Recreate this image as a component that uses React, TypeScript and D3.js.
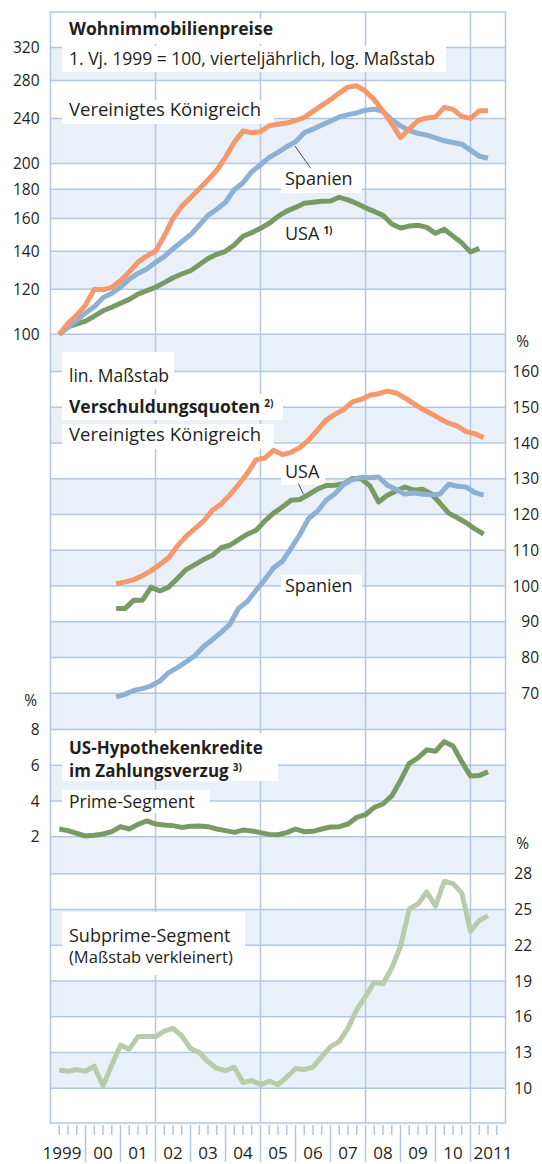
import * as d3 from "d3";

// Quartalswerte, Index 0 = 1. Vj. 1999
const houseUK = [100, 104.6, 108.1, 112.6, 120, 119.8, 121, 124.3, 128.8, 134, 137.4, 140, 149, 160, 168, 174, 180.5, 187, 194.5, 205, 218, 228, 226.5, 227.5, 233, 234.5, 235.5, 238, 241, 247, 253, 259, 266, 272.5, 274, 268, 259, 247, 235, 222, 230, 238, 240.5, 241.5, 251, 249, 242, 240, 247.5, 247.5];
const houseES = [100, 102.9, 105.8, 109, 111.8, 116, 118.1, 121, 125.1, 128, 130.3, 133.9, 137, 141.5, 145.5, 149.7, 155.6, 162, 166.1, 170.8, 179.7, 184.9, 193.4, 198.9, 205, 209.2, 214, 218.4, 226.4, 229.8, 233.6, 237.5, 241.4, 243.7, 245.4, 248.2, 249.2, 246.9, 238.6, 232.9, 228.5, 225.9, 224.3, 221.8, 219.2, 217.7, 216.2, 211.1, 206, 204.2];
const houseUS = [100, 103.1, 104.3, 105.5, 107.6, 110, 111.6, 113.4, 115.2, 117.7, 119.4, 121, 123.3, 125.8, 127.7, 129.4, 132.6, 136, 138.3, 140, 143.6, 148.8, 151, 153.7, 156.9, 161.3, 164.8, 167.3, 170.1, 170.8, 171.5, 171.7, 174.3, 172.5, 170, 167, 164.6, 162, 156.4, 153.9, 155.1, 155.6, 154.3, 150.6, 153.1, 148.9, 144.9, 139.6, 141.7];

// Verschuldungsquoten ab 4. Vj. 2000 (Index 7)
const debtStart = 7;
const debtUK = [100.65, 101.1, 101.8, 102.9, 104.3, 106, 107.9, 111.2, 113.9, 116.05, 118.2, 121.2, 122.9, 125.5, 128.4, 131.6, 135.35, 135.8, 138, 136.75, 137.4, 138.7, 140.8, 143.56, 146.4, 148, 149.34, 151.5, 152.2, 153.35, 153.8, 154.5, 154, 152.6, 151, 149.5, 148.2, 146.8, 145.6, 144.7, 143.2, 142.6, 141.5];
const debtUS = [93.7, 93.7, 96, 96, 99.7, 98.6, 99.7, 102.1, 104.6, 106, 107.4, 108.6, 110.7, 111.4, 113, 114.5, 115.6, 118.2, 120.4, 122.1, 124, 124.2, 125.6, 127.1, 128.1, 128.2, 128.6, 130.1, 130, 128, 123.5, 125.4, 126.6, 127.7, 126.8, 127.1, 125.8, 123.2, 120.4, 119.1, 117.7, 116, 114.5];
const debtES = [69, 69.7, 70.8, 71.3, 72.1, 73.4, 75.8, 77.2, 78.8, 80.5, 83.1, 85, 87.05, 89.3, 93.8, 95.7, 98.8, 101.8, 105.1, 106.9, 110.6, 114.4, 118.9, 120.9, 124, 125.8, 128.4, 129.8, 130.4, 130.3, 130.5, 128.2, 127, 125.7, 126, 125.7, 125.5, 125.7, 128.45, 127.9, 127.7, 126.1, 125.4];

// US-Hypothekenkredite im Zahlungsverzug, %
const prime = [2.43, 2.34, 2.19, 2.04, 2.08, 2.15, 2.28, 2.56, 2.43, 2.69, 2.88, 2.71, 2.65, 2.62, 2.52, 2.58, 2.6, 2.56, 2.43, 2.34, 2.24, 2.37, 2.32, 2.23, 2.13, 2.11, 2.23, 2.43, 2.28, 2.3, 2.43, 2.54, 2.56, 2.71, 3.08, 3.23, 3.64, 3.83, 4.28, 5.14, 6.11, 6.41, 6.86, 6.78, 7.32, 7.08, 6.2, 5.4, 5.42, 5.64];
const subprime = [11.54, 11.43, 11.57, 11.43, 11.85, 10.2, 11.96, 13.62, 13.28, 14.34, 14.34, 14.34, 14.79, 15.02, 14.4, 13.34, 13, 12.22, 11.68, 11.49, 11.77, 10.48, 10.65, 10.31, 10.59, 10.31, 10.93, 11.66, 11.57, 11.77, 12.66, 13.5, 13.92, 15.04, 16.58, 17.71, 18.88, 18.77, 20.09, 21.91, 25.04, 25.46, 26.47, 25.27, 27.37, 27.17, 26.39, 23.17, 24.06, 24.48];

const houseTicks = [100, 120, 140, 160, 180, 200, 240, 280, 320];
const debtTicks = [70, 80, 90, 100, 110, 120, 130, 140, 150, 160];
const primeTicks = [2, 4, 6, 8];
const subTicks = [10, 13, 16, 19, 22, 25, 28];
const yearLabels = ["1999", "00", "01", "02", "03", "04", "05", "06", "07", "08", "09", "10", "2011"];
const gridYears = [2002, 2005, 2008, 2011];

const C = {
  uk: "#f5986c",
  es: "#8db0d5",
  us: "#789b63",
  sub: "#b8cbad",
  grid: "#b3c7e3",
  band: "#eaf0f8",
  text: "#231f20",
};
const FONT = "'Open Sans', sans-serif";

const W = 542;
const H = 1164;
const L = 50.5;
const R = 505.5;
const TOP = 12;
const BOTTOM = 1123;

const x = d3.scaleLinear().domain([1999, 2012]).range([L, R]);
const qEnd = (q: number) => 1999 + (q + 1) / 4;
const qMid = (q: number) => 1999 + (q + 0.5) / 4;

const yHouse = d3.scaleLog().domain([100, 320]).range([334.3, 47.5]);
const yDebt = d3.scaleLinear().domain([70, 160]).range([693.3, 371.5]);
const yPrime = d3.scaleLinear().domain([2, 8]).range([836.7, 729.5]);
const ySub = d3.scaleLinear().domain([10, 28]).range([1088.3, 873.7]);

function path(vals: number[], y: (v: number) => number, t: (i: number) => number) {
  return d3
    .line<number>()
    .x((_, i) => x(t(i)))
    .y((d) => y(d))(vals) as string;
}

const gridYs = [
  ...houseTicks.map((v) => yHouse(v)),
  ...debtTicks.map((v) => yDebt(v)),
  ...primeTicks.map((v) => yPrime(v)),
  ...subTicks.map((v) => ySub(v)),
].sort((a, b) => a - b);
const edges = [TOP, ...gridYs, BOTTOM];

function Label({ x0, y0, children, size = 17.5, weight = 400 }: any) {
  return (
    <text x={x0} y={y0} fontSize={size} fontWeight={weight} fill={C.text} fontFamily={FONT}>
      {children}
    </text>
  );
}

const Sup = ({ children }: any) => (
  <tspan fontSize={10} fontWeight={700} dx={4} dy={-6}>
    {children}
  </tspan>
);

export default function App() {
  const quarters = d3.range(1999.25, 2012, 0.25).filter((t) => Math.abs(t - Math.round(t)) > 0.01);
  const years = d3.range(2000, 2012);
  return (
    <svg width={W} height={H} style={{ position: "absolute", left: 0, top: 0, background: "#fff" }}>
      {/* Hintergrundbänder */}
      {edges.slice(0, -1).map((y0, i) =>
        i % 2 === 1 ? <rect key={i} x={L} y={y0} width={R - L} height={edges[i + 1] - y0} fill={C.band} /> : null
      )}
      {/* Gitter */}
      {gridYs.map((y0, i) => (
        <line key={"h" + i} x1={L} x2={R} y1={y0} y2={y0} stroke={C.grid} strokeWidth={1.5} />
      ))}
      {gridYears.map((t) => (
        <line key={"v" + t} x1={x(t)} x2={x(t)} y1={TOP} y2={BOTTOM} stroke={C.grid} strokeWidth={1.5} />
      ))}
      <rect x={L} y={TOP} width={R - L} height={BOTTOM - TOP} fill="none" stroke={C.grid} strokeWidth={1.5} />

      {/* weiße Beschriftungsflächen */}
      <g fill="#fff">
        <rect x={62} y={19} width={218} height={25} />
        <rect x={62} y={46} width={384} height={26} />
        <rect x={62} y={100} width={212} height={24} />
        <rect x={281} y={170} width={81} height={23} />
        <rect x={281} y={223} width={59} height={23} />
        <rect x={62} y={352} width={112} height={37} />
        <rect x={62} y={394} width={221} height={26} />
        <rect x={62} y={424} width={212} height={25} />
        <rect x={281} y={462} width={44} height={23} />
        <rect x={281} y={575} width={81} height={23} />
        <rect x={62} y={733} width={216} height={48} />
        <rect x={62} y={790} width={148} height={23} />
        <rect x={62} y={912} width={183} height={63} />
      </g>

      {/* Linien */}
      <g fill="none" strokeWidth={5} strokeLinejoin="round">
        <path d={path(houseUS, yHouse, qEnd)} stroke={C.us} />
        <path d={path(houseES, yHouse, qEnd)} stroke={C.es} />
        <path d={path(houseUK, yHouse, qEnd)} stroke={C.uk} />
        <path d={path(debtUK, yDebt, (i) => qMid(i + debtStart))} stroke={C.uk} />
        <path d={path(debtUS, yDebt, (i) => qMid(i + debtStart))} stroke={C.us} />
        <path d={path(debtES, yDebt, (i) => qMid(i + debtStart))} stroke={C.es} />
        <path d={path(prime, yPrime, qEnd)} stroke={C.us} />
        <path d={path(subprime, ySub, qEnd)} stroke={C.sub} />
      </g>

      {/* Hinweislinien */}
      <line x1={295} y1={146} x2={310.7} y2={168.3} stroke={C.text} strokeWidth={0.8} />
      <line x1={298.3} y1={483.3} x2={303.3} y2={494} stroke={C.text} strokeWidth={0.8} />

      {/* Achsen links */}
      <g fontFamily={FONT} fontSize={15.5} fill={C.text} textAnchor="end">
        {houseTicks.map((v) => (
          <text key={"hl" + v} x={39.5} y={yHouse(v)} dy="0.36em">{v}</text>
        ))}
        {primeTicks.map((v) => (
          <text key={"pl" + v} x={39.5} y={yPrime(v)} dy="0.36em">{v}</text>
        ))}
        <text x={37} y={706}>%</text>
      </g>
      {/* Achsen rechts */}
      <g fontFamily={FONT} fontSize={15.5} fill={C.text} textAnchor="end">
        {debtTicks.map((v) => (
          <text key={"dr" + v} x={539} y={yDebt(v)} dy="0.36em">{v}</text>
        ))}
        {subTicks.map((v) => (
          <text key={"sr" + v} x={532} y={ySub(v)} dy="0.36em">{v}</text>
        ))}
        <text x={529} y={347}>%</text>
        <text x={529} y={849}>%</text>
      </g>

      {/* Zeitachse */}
      <g stroke={C.grid} strokeWidth={1.5}>
        {quarters.map((t) => (
          <line key={"q" + t} x1={x(t)} x2={x(t)} y1={BOTTOM + 2} y2={BOTTOM + 12} />
        ))}
        {years.map((t) => (
          <line key={"y" + t} x1={x(t)} x2={x(t)} y1={BOTTOM + 2} y2={1162} />
        ))}
      </g>
      <g fontFamily={FONT} fontSize={17} fill={C.text}>
        {yearLabels.map((s, i) => {
          const first = i === 0;
          const last = i === yearLabels.length - 1;
          const xx = first ? x(2000) - 4 : last ? x(2011) + 3 : x(1999.5 + i);
          return (
            <text key={s} x={xx} y={1159} textAnchor={first ? "end" : last ? "start" : "middle"}>
              {s}
            </text>
          );
        })}
      </g>

      {/* Beschriftungen */}
      <Label x0={69} y0={35} weight={700}>Wohnimmobilienpreise</Label>
      <Label x0={69} y0={65}>1. Vj. 1999 = 100, vierteljährlich, log. Maßstab</Label>
      <Label x0={69} y0={116} size={18.5}>Vereinigtes Königreich</Label>
      <Label x0={285} y0={185} size={18}>Spanien</Label>
      <Label x0={285} y0={240} size={18}>
        USA<Sup>1)</Sup>
      </Label>
      <Label x0={69} y0={382}>lin. Maßstab</Label>
      <Label x0={69} y0={413} weight={700}>
        Verschuldungsquoten<Sup>2)</Sup>
      </Label>
      <Label x0={69} y0={441} size={18.5}>Vereinigtes Königreich</Label>
      <Label x0={285} y0={478} size={18}>USA</Label>
      <Label x0={285} y0={592} size={18}>Spanien</Label>
      <Label x0={69} y0={753.5} size={17} weight={700}>US-Hypothekenkredite</Label>
      <Label x0={69} y0={777} size={17} weight={700}>
        im Zahlungsverzug<Sup>3)</Sup>
      </Label>
      <Label x0={69} y0={808}>Prime-Segment</Label>
      <Label x0={69} y0={942} size={18} weight={500}>Subprime-Segment</Label>
      <Label x0={69} y0={963} size={16.5}>(Maßstab verkleinert)</Label>
    </svg>
  );
}
